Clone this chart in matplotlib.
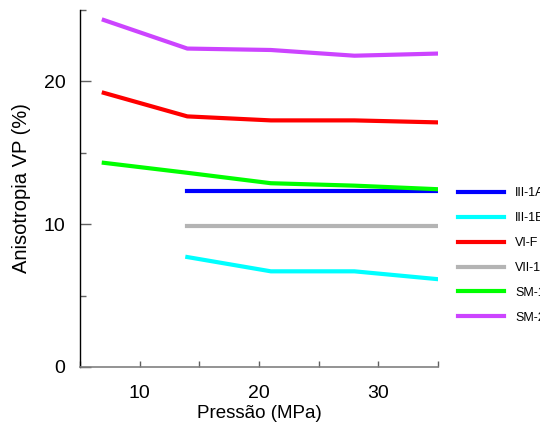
import matplotlib
matplotlib.use("Agg")
import matplotlib.pyplot as plt
from matplotlib.ticker import MultipleLocator

plt.rcParams['font.family'] = ['Liberation Sans', 'DejaVu Sans']

# pressure steps (MPa)
pressao = [7, 14, 21, 28, 35]
pressao_b = [14, 21, 28, 35]

# Vp anisotropy (%) per sample
iii_1a = [12.3, 12.3, 12.3, 12.3]
iii_1b = [7.7, 6.7, 6.7, 6.15]
vi_f = [19.2, 17.55, 17.27, 17.27, 17.13]
vii_1 = [9.9, 9.9, 9.9, 9.9]
sm_1 = [14.3, 13.6, 12.87, 12.7, 12.45]
sm_2 = [24.3, 22.3, 22.2, 21.8, 21.95]

fig = plt.figure(figsize=(5.4, 4.26), dpi=100)
ax = fig.add_axes([0.148, 0.1385, 0.663, 0.838])

lw = 3
ax.plot(pressao_b, iii_1a, color='#0000ff', lw=lw, label='III-1A')
ax.plot(pressao_b, iii_1b, color='#00ffff', lw=lw, label='III-1B')
ax.plot(pressao, vi_f, color='#ff0000', lw=lw, label='VI-F')
ax.plot(pressao_b, vii_1, color='#b4b4b4', lw=lw, label='VII-1')
ax.plot(pressao, sm_1, color='#00ff00', lw=lw, label='SM-1')
ax.plot(pressao, sm_2, color='#cc44ff', lw=lw, label='SM-2')

ax.set_xlim(5, 35)
ax.set_ylim(0, 25)
ax.xaxis.set_major_locator(MultipleLocator(10))
ax.xaxis.set_minor_locator(MultipleLocator(5))
ax.yaxis.set_major_locator(MultipleLocator(10))
ax.yaxis.set_minor_locator(MultipleLocator(5))

for s in ['top', 'right']:
    ax.spines[s].set_visible(False)
ax.spines['left'].set_color('black')
ax.spines['bottom'].set_color('#808080')
ax.spines['left'].set_linewidth(1.0)
ax.spines['bottom'].set_linewidth(1.2)

ax.tick_params(axis='both', which='both', direction='in', color='#606060', width=1.0)
ax.tick_params(axis='y', which='major', length=8, labelsize=14, pad=10.5)
ax.tick_params(axis='y', which='minor', length=4)
ax.tick_params(axis='x', which='both', length=4.5, labelsize=14, pad=13)

ax.set_xlabel('Pressão (MPa)', fontsize=13.5, labelpad=2)
ax.set_ylabel('Anisotropia VP (%)', fontsize=14.5, labelpad=9)

leg = ax.legend(loc='upper left', bbox_to_anchor=(1.024, 0.535), frameon=False,
                fontsize=9, handlelength=3.7, handletextpad=0.9, labelspacing=1.03)

fig.savefig('out.png', dpi=100)
